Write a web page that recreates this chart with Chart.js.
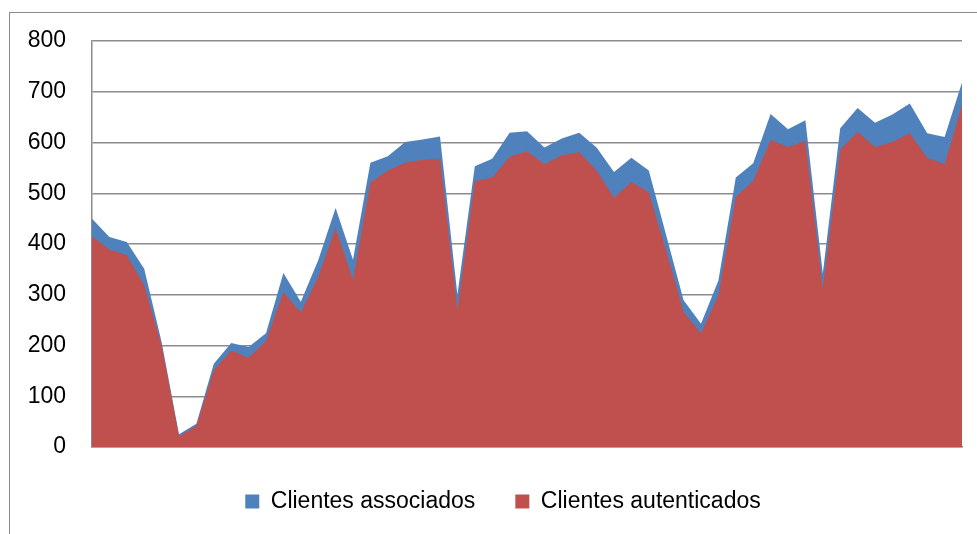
<!DOCTYPE html>
<html lang="pt">
<head>
  <meta charset="UTF-8" />
  <title>Clientes associados e autenticados</title>
  <script src="https://cdn.jsdelivr.net/npm/chart.js"></script>
  <style>
    html, body { margin: 0; padding: 0; background: #fff; overflow: hidden; }
    #wrap { position: relative; width: 977px; height: 534px; }
    #frame {
      position: absolute; left: 9px; top: 12px; width: 1000px; height: 600px;
      border: 1px solid #8c8c8c; box-sizing: border-box; pointer-events: none;
    }
    canvas { position: absolute; left: 0; top: 0; }
  </style>
</head>
<body>
  <div id="wrap">
    <div id="frame"></div>
    <canvas id="chart" width="977" height="534"></canvas>
  </div>

  <script>
    // values, one per sample (51 samples)
    const samples = Array.from({ length: 51 }, (_, i) => String(i + 1));

    const associados = [450, 414, 404, 351, 207, 25, 46, 164, 205, 197, 224, 343, 286, 368, 471, 369,
      560, 573, 601, 606, 612, 300, 553, 568, 619, 622, 590, 608, 619, 590, 542, 570, 545, 417,
      289, 243, 328, 531, 559, 656, 626, 644, 342, 628, 668, 639, 655, 677, 618, 611, 718];

    const autenticados = [415, 389, 378, 318, 200, 21, 42, 151, 190, 176, 209, 305, 265, 335, 432, 329,
      521, 545, 560, 566, 568, 270, 524, 531, 572, 583, 557, 575, 581, 545, 491, 522, 502, 386,
      266, 224, 299, 493, 524, 605, 591, 603, 312, 586, 621, 591, 601, 618, 570, 557, 674];

    const yTicks = [0, 100, 200, 300, 400, 500, 600, 700, 800];

    const font = "'Liberation Sans', Arial, sans-serif";

    new Chart(document.getElementById("chart"), {
      type: "line",
      data: {
        labels: samples,
        datasets: [
          {
            label: "Clientes associados",
            data: associados,
            backgroundColor: "#4F81BD",
            borderColor: "#4F81BD",
            borderWidth: 0,
            pointRadius: 0,
            fill: "origin",
            order: 1
          },
          {
            label: "Clientes autenticados",
            data: autenticados,
            backgroundColor: "#C0504D",
            borderColor: "#C0504D",
            borderWidth: 0,
            pointRadius: 0,
            fill: "origin",
            order: 0
          }
        ]
      },
      options: {
        responsive: false,
        animation: false,
        layout: { padding: { left: 0, right: 15, top: 41, bottom: 11 } },
        plugins: {
          tooltip: { enabled: false },
          legend: {
            position: "bottom",
            labels: {
              font: { family: font, size: 23 },
              color: "#000",
              boxWidth: 14,
              boxHeight: 14,
              padding: 40,
              sort: (a, b) => a.datasetIndex - b.datasetIndex
            }
          }
        },
        scales: {
          x: {
            offset: false,
            afterFit: (scale) => { scale.height = 3; },
            ticks: { display: false },
            grid: { display: false, drawTicks: false },
            border: { display: true, color: "#8c8c8c", width: 1.5 }
          },
          y: {
            min: 0,
            max: 800,
            afterBuildTicks: (scale) => { scale.ticks = yTicks.map(v => ({ value: v })); },
            afterFit: (scale) => { scale.width = 92; },
            ticks: {
              font: { family: font, size: 23 },
              color: "#000",
              padding: 26
            },
            grid: { color: "#8c8c8c", lineWidth: 1.5, drawTicks: false },
            border: { display: true, color: "#8c8c8c", width: 1.5 }
          }
        }
      },
      plugins: [{
        // the legend sits a bit right of the canvas centre in the original
        id: "legendShift",
        afterLayout(chart) {
          if (chart.legend) chart.legend.left += 44;
        }
      }]
    });
  </script>
</body>
</html>
